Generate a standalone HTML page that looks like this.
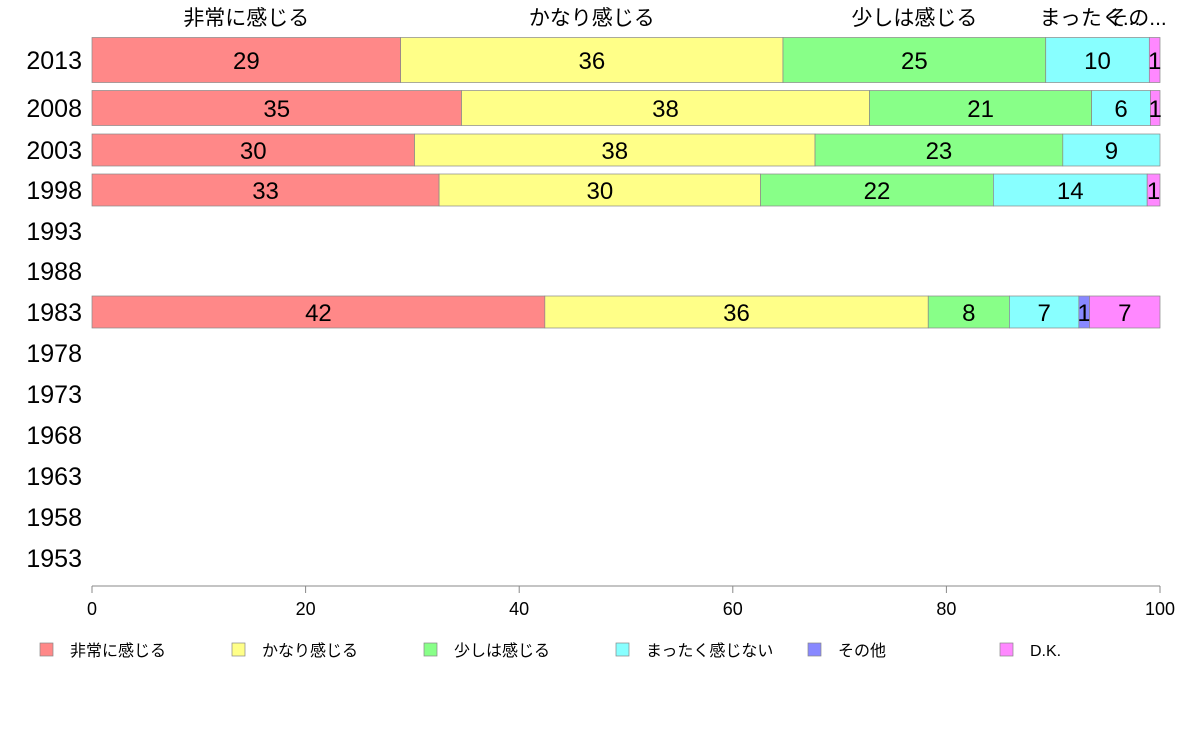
<!DOCTYPE html>
<html><head><meta charset="utf-8"><style>
body{margin:0;background:#fff;width:1188px;height:736px;overflow:hidden}
svg{font-family:"Liberation Sans","Noto Sans CJK JP",sans-serif}
</style></head><body>
<svg id="chart" width="1188" height="736" xmlns="http://www.w3.org/2000/svg"></svg>
<script>
const years = ["2013","2008","2003","1998","1993","1988","1983","1978","1973","1968","1963","1958","1953"];
const seriesNames = ["非常に感じる","かなり感じる","少しは感じる","まったく感じない","その他","D.K."];
const colors = ["#ff8888","#ffff88","#88ff88","#88ffff","#8888ff","#ff88ff"];
const s1 = [28.9,34.6,30.2,32.5,null,null,42.4,null,null,null,null,null,null];
const s2 = [35.8,38.2,37.5,30.1,null,null,35.9,null,null,null,null,null,null];
const s3 = [24.6,20.8,23.2,21.8,null,null,7.6,null,null,null,null,null,null];
const s4 = [9.7,5.5,9.1,14.4,null,null,6.5,null,null,null,null,null,null];
const s5 = [0,0,0,0,null,null,1.0,null,null,null,null,null,null];
const s6 = [1.0,0.9,0,1.2,null,null,6.6,null,null,null,null,null,null];
const xTicks = [0,20,40,60,80,100];
const topLabels = ["非常に感じる","かなり感じる","少しは感じる","まったく...","その..."];

const svg = document.getElementById('chart');
const NS = "http://www.w3.org/2000/svg";
const x = v => 92 + v * 10.68;
const rowY = [60,108,150,190,231,271,312,353,394,435,476,517,558];
const rowH = i => i === 0 ? 45 : (i === 1 ? 35 : 32);
function mk(tag, attrs, txt){ const e=document.createElementNS(NS,tag); for(const k in attrs) e.setAttribute(k,attrs[k]); if(txt!==undefined) e.textContent=txt; svg.appendChild(e); return e; }

const series = [s1,s2,s3,s4,s5,s6];
years.forEach((yr,i)=>{
  const t = mk('text',{x:82,y:rowY[i]+9,'text-anchor':'end','font-size':25,fill:'#000'},yr);
  
  
  if (s1[i]===null) return;
  let acc = 0;
  series.forEach((s,j)=>{
    const v = s[i];
    if (!v) { return; }
    const r = mk('rect',{x:x(acc),y:rowY[i]-rowH(i)/2,width:x(acc+v)-x(acc),height:rowH(i),fill:colors[j],stroke:'#888','stroke-width':0.7});
    
    
    const lt = mk('text',{x:(x(acc)+x(acc+v))/2,y:rowY[i]+9,'text-anchor':'middle','font-size':24,fill:'#000'},Math.round(v));
    
    
    acc += v;
  });
});
// top labels from 2013 row
let acc0 = 0;
topLabels.forEach((lab,j)=>{
  const v = series[j][0];
  let cx = (x(acc0)+x(acc0+v))/2;
  if (j===3) cx = 1090;
  if (j===4) cx = 1137;
  const t = mk('text',{x:cx,y:25,'text-anchor':'middle','font-size':21,fill:'#000'},lab);
  
  
  acc0 += v;
});
// axis
const ax = mk('line',{x1:x(0),y1:586,x2:x(100),y2:586,stroke:'#888','stroke-width':1});


xTicks.forEach(v=>{
  const tk = mk('line',{x1:x(v),y1:586,x2:x(v),y2:593,stroke:'#888','stroke-width':1});
  
  
  const tl = mk('text',{x:x(v),y:615,'text-anchor':'middle','font-size':18,fill:'#000'},v);
  
  
});
// legend
seriesNames.forEach((n,j)=>{
  const lx = 40 + j*192;
  const sw = mk('rect',{x:lx,y:643,width:13,height:13,fill:colors[j],stroke:'#888','stroke-width':0.7});
  
  
  const lt = mk('text',{x:lx+30,y:656,'font-size':16,fill:'#000'},n);
  
  
});
</script>
</body></html>
